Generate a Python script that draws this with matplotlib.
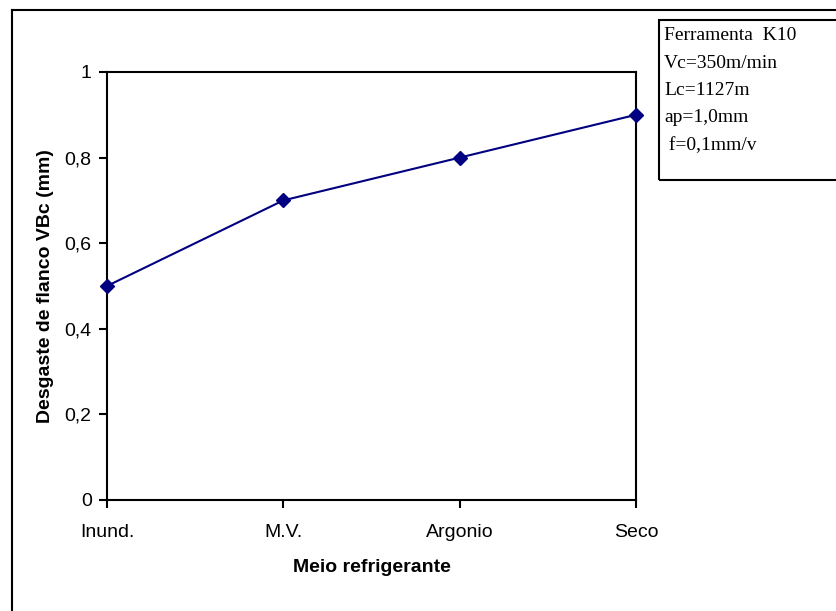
import matplotlib
matplotlib.use("Agg")
import matplotlib.pyplot as plt
from matplotlib.patches import Rectangle

categories = ["Inund.", "M.V.", "Argonio", "Seco"]
wear = [0.5, 0.7, 0.8, 0.9]
yticks = [0, 0.2, 0.4, 0.6, 0.8, 1]
ytick_labels = ["0", "0,2", "0,4", "0,6", "0,8", "1"]
info_lines = ["Ferramenta  K10", "Vc=350m/min", "Lc=1127m", "ap=1,0mm", " f=0,1mm/v"]

W, H = 836, 611
fig = plt.figure(figsize=(W / 100, H / 100), dpi=100)
sans = ["Liberation Sans", "DejaVu Sans"]
serif = ["Liberation Serif", "DejaVu Serif"]

# outer frame (only top and left visible)
fig.add_artist(plt.Line2D([12 / W, 1.0], [1 - 10 / H, 1 - 10 / H], color="black", lw=1.5, transform=fig.transFigure))
fig.add_artist(plt.Line2D([12 / W, 12 / W], [0, 1 - 10 / H], color="black", lw=1.5, transform=fig.transFigure))

ax = fig.add_axes([107 / W, (H - 500) / H, (636 - 107) / W, (500 - 72) / H])
x = list(range(len(categories)))
ax.plot(x, wear, color="#000080", lw=1.5, marker="D", markersize=7.5, clip_on=False, zorder=5)
ax.set_xlim(0, len(categories) - 1)
ax.set_ylim(0, 1)
ax.set_xticks(x)
ax.set_xticklabels(categories, family=sans, fontsize=14)
ax.set_yticks(yticks)
ax.set_yticklabels(ytick_labels, family=sans, fontsize=14)
for s in ax.spines.values():
    s.set_linewidth(1.5)
ax.tick_params(axis="both", direction="out", length=6, width=1.5)
ax.tick_params(axis="x", pad=11)
ax.tick_params(axis="y", pad=5)
ax.set_xlabel("Meio refrigerante", family=sans, fontsize=14, fontweight="bold", labelpad=13)
ax.set_ylabel("Desgaste de flanco VBc (mm)", family=sans, fontsize=14, fontweight="bold", labelpad=7.5)

# info box
fig.add_artist(Rectangle((659 / W, 1 - 180 / H), (W - 659 + 5) / W, (180 - 20) / H,
                         transform=fig.transFigure, fill=False, edgecolor="black", lw=1.5, clip_on=False))
y0 = 36
for i, line in enumerate(info_lines):
    fig.text(664 / W, 1 - (y0 + 27.3 * i) / H, line, family=serif, fontsize=14, va="center", ha="left")

fig.savefig("out.png", dpi=100)
